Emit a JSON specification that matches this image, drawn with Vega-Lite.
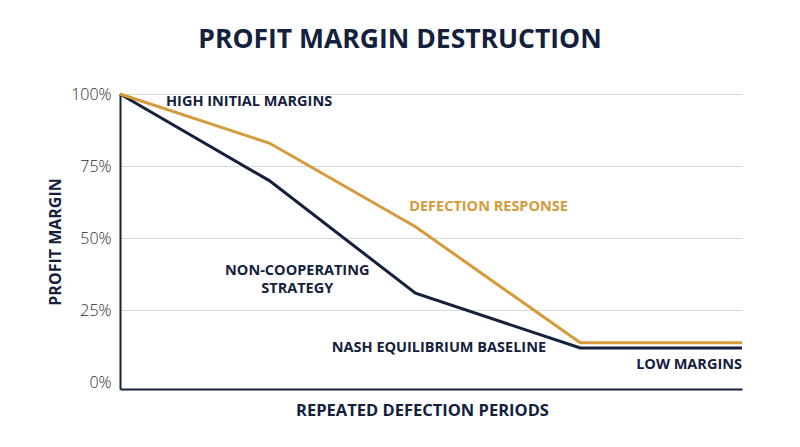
{
  "$schema": "https://vega.github.io/schema/vega-lite/v6.json",
  "autosize": {"type": "none"},
  "width": 622,
  "height": 295,
  "padding": {"left": 120, "top": 94, "right": 58, "bottom": 58},
  "background": "white",
  "config": {
    "view": {"stroke": null},
    "font": "Open Sans"
  },
  "title": {
    "text": "PROFIT MARGIN DESTRUCTION",
    "font": "Open Sans",
    "fontSize": 26.5,
    "fontWeight": "bold",
    "color": "#14213d",
    "anchor": "middle",
    "dx": -31,
    "offset": 33
  },
  "datasets": {
    "lines": [
      {"period": 0, "margin": 100, "series": "Non-cooperating"},
      {"period": 24, "margin": 70, "series": "Non-cooperating"},
      {"period": 47.5, "margin": 31, "series": "Non-cooperating"},
      {"period": 74, "margin": 12, "series": "Non-cooperating"},
      {"period": 100, "margin": 12, "series": "Non-cooperating"},
      {"period": 0, "margin": 100, "series": "Defection response"},
      {"period": 24, "margin": 83, "series": "Defection response"},
      {"period": 47.5, "margin": 54, "series": "Defection response"},
      {"period": 74, "margin": 13.8, "series": "Defection response"},
      {"period": 100, "margin": 13.8, "series": "Defection response"}
    ],
    "notes": [
      {"text": "HIGH INITIAL MARGINS", "x": 7.4, "y": 97.3, "align": "left", "color": "#14213d"},
      {"text": "NON-COOPERATING", "x": 28.5, "y": 38.7, "align": "center", "color": "#14213d"},
      {"text": "STRATEGY", "x": 28.5, "y": 32.5, "align": "center", "color": "#14213d"},
      {"text": "DEFECTION RESPONSE", "x": 46.5, "y": 60.7, "align": "left", "color": "#d59b3a"},
      {"text": "NASH EQUILIBRIUM BASELINE", "x": 68.5, "y": 12.1, "align": "right", "color": "#14213d"},
      {"text": "LOW MARGINS", "x": 100, "y": 6.0, "align": "right", "color": "#14213d"}
    ]
  },
  "layer": [
    {
      "data": {"name": "lines"},
      "mark": {"type": "line", "strokeWidth": 3},
      "encoding": {
        "x": {
          "field": "period",
          "type": "quantitative",
          "scale": {"domain": [0, 100], "nice": false},
          "axis": {
            "title": "REPEATED DEFECTION PERIODS",
            "labels": false,
            "ticks": false,
            "grid": false,
            "domainColor": "#14213d",
            "domainWidth": 2,
            "titleFont": "Open Sans",
            "titleFontSize": 16.5,
            "titleFontWeight": "bold",
            "titleColor": "#14213d",
            "titlePadding": 13,
            "titleX": 302
          }
        },
        "y": {
          "field": "margin",
          "type": "quantitative",
          "scale": {"domain": [-2.2, 100], "nice": false, "zero": false},
          "axis": {
            "title": "PROFIT MARGIN",
            "values": [0, 25, 50, 75, 100],
            "labelExpr": "datum.value + '%'",
            "labelFont": "Open Sans",
            "labelFontSize": 16,
            "labelFontWeight": 300,
            "labelColor": "#2b2b2b",
            "labelPadding": 9,
            "ticks": false,
            "domainColor": "#14213d",
            "domainWidth": 2,
            "gridColor": "#d9d9d9",
            "gridOpacity": {"condition": {"test": "datum.value === 0", "value": 0}, "value": 1},
            "titleFont": "Open Sans",
            "titleFontSize": 16,
            "titleFontWeight": "bold",
            "titleColor": "#14213d",
            "titlePadding": 7
          }
        },
        "color": {
          "field": "series",
          "type": "nominal",
          "scale": {"domain": ["Non-cooperating", "Defection response"], "range": ["#14213d", "#d59b3a"]},
          "legend": null
        },
        "order": {"field": "period", "type": "quantitative"}
      }
    },
    {
      "data": {"name": "notes"},
      "transform": [{"filter": "datum.align === 'left'"}],
      "mark": {"type": "text", "font": "Open Sans", "fontSize": 14.5, "fontWeight": "bold", "baseline": "middle", "align": "left"},
      "encoding": {
        "x": {"field": "x", "type": "quantitative"},
        "y": {"field": "y", "type": "quantitative"},
        "text": {"field": "text"},
        "color": {"field": "color", "type": "nominal", "scale": null}
      }
    },
    {
      "data": {"name": "notes"},
      "transform": [{"filter": "datum.align === 'center'"}],
      "mark": {"type": "text", "font": "Open Sans", "fontSize": 14.5, "fontWeight": "bold", "baseline": "middle", "align": "center"},
      "encoding": {
        "x": {"field": "x", "type": "quantitative"},
        "y": {"field": "y", "type": "quantitative"},
        "text": {"field": "text"},
        "color": {"field": "color", "type": "nominal", "scale": null}
      }
    },
    {
      "data": {"name": "notes"},
      "transform": [{"filter": "datum.align === 'right'"}],
      "mark": {"type": "text", "font": "Open Sans", "fontSize": 14.5, "fontWeight": "bold", "baseline": "middle", "align": "right"},
      "encoding": {
        "x": {"field": "x", "type": "quantitative"},
        "y": {"field": "y", "type": "quantitative"},
        "text": {"field": "text"},
        "color": {"field": "color", "type": "nominal", "scale": null}
      }
    }
  ]
}
